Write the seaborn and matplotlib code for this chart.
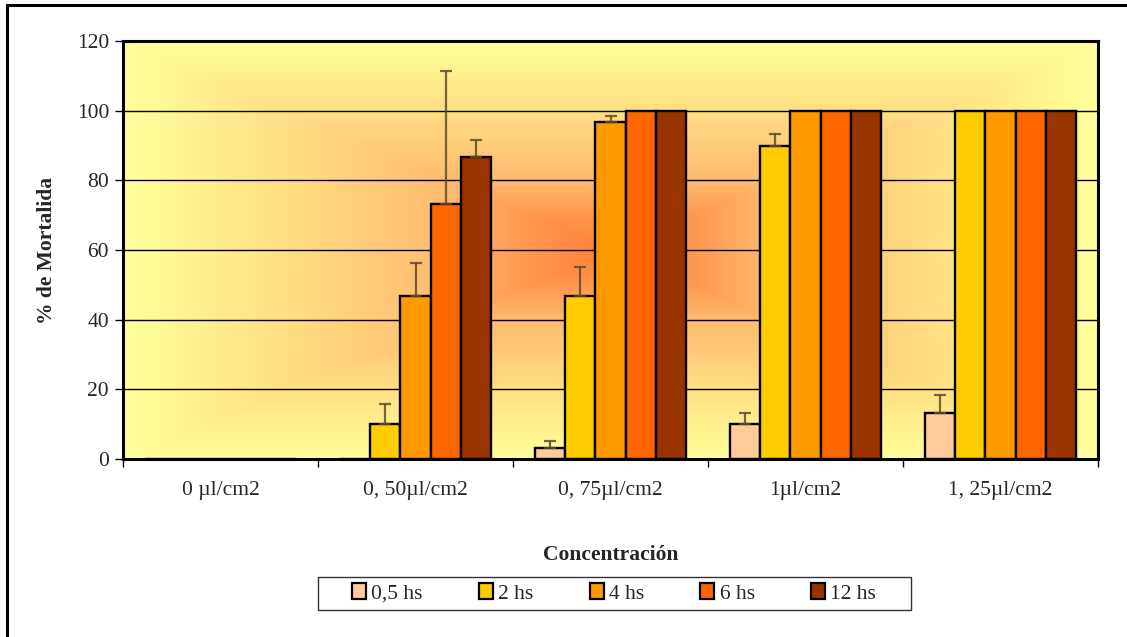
import numpy as np
import pandas as pd
import seaborn as sns
import matplotlib.pyplot as plt
from matplotlib.colors import LinearSegmentedColormap
from matplotlib.patches import Patch, Rectangle
from matplotlib.lines import Line2D

categories = ["0 µl/cm2", "0, 50µl/cm2", "0, 75µl/cm2", "1µl/cm2", "1, 25µl/cm2"]
series = ["0,5 hs", "2 hs", "4 hs", "6 hs", "12 hs"]
colors = ["#FFCC99", "#FFCC00", "#FF9900", "#FF6600", "#993300"]

mort_05 = [0, 0, 3.3, 10, 13.3]
mort_2 = [0, 10, 46.7, 90, 100]
mort_4 = [0, 46.7, 96.7, 100, 100]
mort_6 = [0, 73.3, 100, 100, 100]
mort_12 = [0, 86.7, 100, 100, 100]

err_05 = [0, 0, 1.8, 3.3, 5.0]
err_2 = [0, 5.8, 8.5, 3.4, 0]
err_4 = [0, 9.5, 1.9, 0, 0]
err_6 = [0, 38, 0, 0, 0]
err_12 = [0, 5, 0, 0, 0]

values = [mort_05, mort_2, mort_4, mort_6, mort_12]
errors = [err_05, err_2, err_4, err_6, err_12]

df = pd.DataFrame({
    "conc": categories * len(series),
    "tiempo": [s for s in series for _ in categories],
    "mort": [v for vals in values for v in vals],
})

sns.set_style("white")
plt.rcParams["font.family"] = ["Liberation Serif", "DejaVu Serif"]
fs = 15.5

fig = plt.figure(figsize=(11.27, 6.37), dpi=100)
ax = fig.add_axes([123 / 1127, 1 - 459 / 637, (1098 - 123) / 1127, (459 - 41) / 637])

# background gradient (rectangular, from centre)
u = np.linspace(-1, 1, 400)
v = np.linspace(-1, 1, 300)
U, V = np.meshgrid(u, v)
t = np.maximum(np.abs(U), np.abs(V))
cmap = LinearSegmentedColormap.from_list("bg", [
    (0.0, (1.0, 0.50, 0.22)),
    (0.18, (1.0, 0.60, 0.32)),
    (0.32, (1.0, 0.725, 0.43)),
    (0.64, (1.0, 0.86, 0.51)),
    (0.94, (1.0, 0.98, 0.59)),
    (1.0, (1.0, 1.0, 0.61)),
])
ax.imshow(t, cmap=cmap, vmin=0, vmax=1, extent=(-0.5, 4.5, 0, 120),
          aspect="auto", zorder=0, interpolation="bilinear")

sns.barplot(data=df, x="conc", y="mort", hue="tiempo", order=categories,
            hue_order=series, palette=colors, width=0.77, gap=0,
            errorbar=None, edgecolor="black", linewidth=1.7, saturation=1,
            legend=False, ax=ax, zorder=2)

for cont, err in zip(ax.containers, errors):
    for bar, e in zip(cont, err):
        if e > 0:
            xc = bar.get_x() + bar.get_width() / 2
            top = bar.get_height()
            ax.errorbar(xc, top, yerr=[[0], [e]], fmt="none", ecolor="#5e4c2e",
                        elinewidth=1.6, capsize=4, capthick=1.6, alpha=0.85, zorder=3)

ax.set_xlim(-0.5, 4.5)
ax.set_ylim(0, 120)
ax.set_yticks(range(0, 121, 20))
ax.grid(axis="y", color="black", linewidth=1.0, zorder=1)
ax.grid(axis="x", visible=False)
ax.set_axisbelow(True)

ax.set_xticks(np.arange(-0.5, 5, 1))
ax.set_xticklabels([])
ax.set_xticks(range(len(categories)), minor=True)
ax.set_xticklabels(categories, minor=True, fontsize=fs)
ax.tick_params(axis="x", which="major", direction="out", length=6, width=1, color="black", bottom=True)
ax.tick_params(axis="x", which="minor", length=0, pad=16)
ax.tick_params(axis="y", direction="out", length=6, width=1, color="black", left=True,
               labelsize=fs, pad=4)

for sp in ax.spines.values():
    sp.set_color("black")
    sp.set_linewidth(2.2)
    sp.set_zorder(4)

ax.set_xlabel("Concentración", fontsize=fs, fontweight="bold", labelpad=32)
ax.set_ylabel("% de Mortalida", fontsize=fs, fontweight="bold", labelpad=14)

handles = [Patch(facecolor=c, edgecolor="black", linewidth=1.6) for c in colors]
fig.legend(handles, series, loc="center", bbox_to_anchor=(614 / 1127, 1 - 593.5 / 637),
           ncol=5, frameon=False, fontsize=fs, handlelength=0.65, handleheight=0.7,
           handletextpad=0.25, columnspacing=2.6)
fig.add_artist(Rectangle((318 / 1127, 1 - 610 / 637), (911 - 318) / 1127, 33 / 637,
                         transform=fig.transFigure, fill=False, edgecolor="#333333",
                         linewidth=1.0))

# outer chart border (left and top visible)
fig.add_artist(Line2D([7 / 1127, 7 / 1127], [0, 1 - 5 / 637], transform=fig.transFigure,
                      color="black", linewidth=2.2))
fig.add_artist(Line2D([7 / 1127, 1], [1 - 5 / 637, 1 - 5 / 637], transform=fig.transFigure,
                      color="black", linewidth=2.2))

fig.savefig("out.png", dpi=100)
